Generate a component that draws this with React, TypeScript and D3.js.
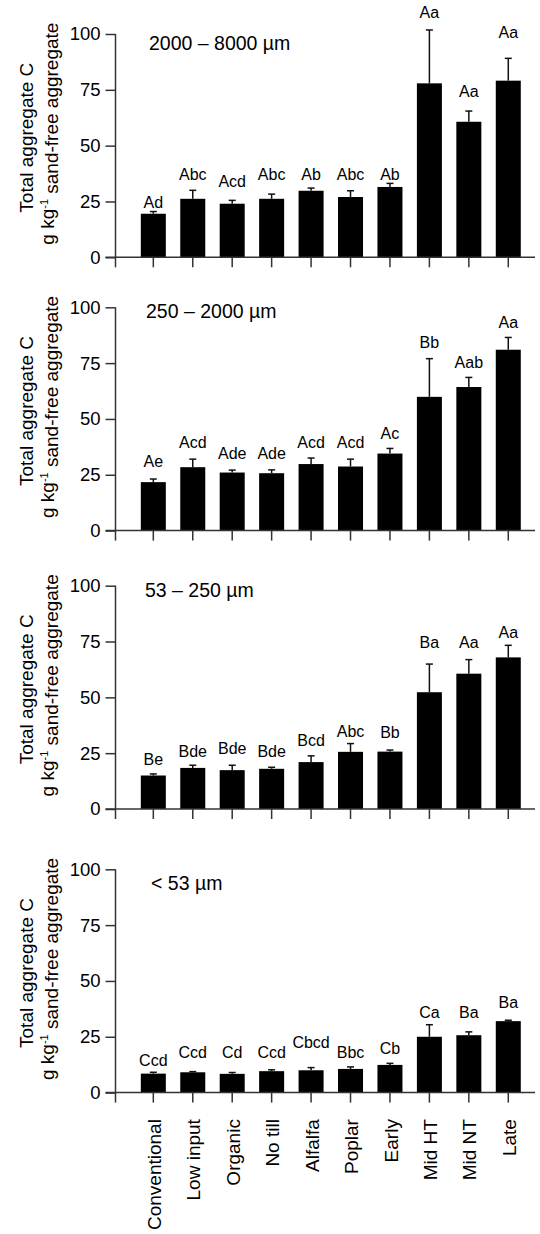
import React, { useEffect, useRef } from "react";
import * as d3 from "d3";

// treatments along the x axis
const categories = [
  "Conventional",
  "Low input",
  "Organic",
  "No till",
  "Alfalfa",
  "Poplar",
  "Early",
  "Mid HT",
  "Mid NT",
  "Late",
];

const panelTitles = ["2000 – 8000 µm", "250 – 2000 µm", "53 – 250 µm", "< 53 µm"];
const yTicks = [0, 25, 50, 75, 100];

// 2000 - 8000 µm
const mean2000 = [19.5, 26.2, 24.0, 26.2, 29.8, 27.0, 31.5, 77.9, 60.7, 79.1];
const se2000 = [1.0, 3.8, 1.5, 2.1, 1.2, 2.8, 1.6, 23.9, 4.8, 10.0];
const letters2000 = ["Ad", "Abc", "Acd", "Abc", "Ab", "Abc", "Ab", "Aa", "Aa", "Aa"];
const letterAt2000 = [22.3, 34.6, 31.6, 34.6, 34.6, 34.6, 34.6, 107, 71.9, 98.1];

// 250 - 2000 µm
const mean250 = [21.7, 28.4, 26.0, 25.7, 29.8, 28.7, 34.5, 59.9, 64.3, 81.0];
const se250 = [1.4, 3.6, 1.1, 1.5, 2.7, 3.3, 2.3, 17.1, 4.3, 5.5];
const letters250 = ["Ae", "Acd", "Ade", "Ade", "Acd", "Acd", "Ac", "Bb", "Aab", "Aa"];
const letterAt250 = [28.4, 37.0, 32.2, 32.2, 37.0, 37.0, 41.2, 81.7, 72.8, 90.6];

// 53 - 250 µm
const mean53 = [15.0, 18.4, 17.4, 18.0, 21.0, 25.6, 25.7, 52.3, 60.6, 67.9];
const se53 = [0.7, 1.2, 2.2, 0.7, 2.8, 3.7, 0.7, 12.6, 6.3, 5.4];
const letters53 = ["Be", "Bde", "Bde", "Bde", "Bcd", "Abc", "Bb", "Ba", "Aa", "Aa"];
const letterAt53 = [19.8, 23.5, 24.6, 23.5, 28.0, 32.2, 31.9, 72.1, 72.1, 76.5];

// < 53 µm
const meanSilt = [8.5, 9.1, 8.4, 9.6, 10.0, 10.6, 12.4, 25.0, 25.7, 32.0];
const seSilt = [0.6, 0.3, 0.6, 0.6, 1.2, 0.9, 0.7, 5.4, 1.5, 0.4];
const lettersSilt = ["Ccd", "Ccd", "Cd", "Ccd", "Cbcd", "Bbc", "Cb", "Ca", "Ba", "Ba"];
const letterAtSilt = [11.8, 15.6, 15.6, 15.6, 20.1, 15.6, 17.1, 33.5, 33.5, 37.9];

const panelMeans = [mean2000, mean250, mean53, meanSilt];
const panelSe = [se2000, se250, se53, seSilt];
const panelLetters = [letters2000, letters250, letters53, lettersSilt];
const panelLetterAt = [letterAt2000, letterAt250, letterAt53, letterAtSilt];

// layout
const W = 540;
const H = 1234;
const panelTop = [34, 307.3, 585.7, 869.3];
const plotH = 223.3;
const titleX = [149, 146, 145, 151];
const titleDy = [16, 11, 11.6, 20.7];
const axisX = 115.5;
const font = "'Liberation Sans', Arial, sans-serif";
const axisColor = "#333";

export default function App() {
  const svgRef = useRef<SVGSVGElement>(null);

  useEffect(() => {
    const svg = d3.select(svgRef.current);
    svg.selectAll("*").remove();

    const x = d3
      .scaleBand()
      .domain(categories)
      .range([133.6, 528])
      .paddingInner(0.366)
      .paddingOuter(0.183);

    panelTop.forEach((top, p) => {
      const y = d3.scaleLinear().domain([0, 100]).range([top + plotH, top]);
      const y0 = y(0);
      const g = svg.append("g").attr("font-family", font);

      // bars
      g.selectAll(".bar")
        .data(panelMeans[p])
        .enter()
        .append("rect")
        .attr("x", (d, i) => x(categories[i]))
        .attr("y", (d) => y(d))
        .attr("width", x.bandwidth())
        .attr("height", (d) => y0 - y(d))
        .attr("fill", "#000");

      // upper error bars
      const err = g
        .selectAll(".err")
        .data(panelMeans[p])
        .enter()
        .append("g")
        .attr("stroke", "#111")
        .attr("stroke-width", 1.5);
      err
        .append("line")
        .attr("x1", (d, i) => x(categories[i]) + x.bandwidth() / 2)
        .attr("x2", (d, i) => x(categories[i]) + x.bandwidth() / 2)
        .attr("y1", (d) => y(d))
        .attr("y2", (d, i) => y(d + panelSe[p][i]));
      err
        .append("line")
        .attr("x1", (d, i) => x(categories[i]) + x.bandwidth() / 2 - 3.5)
        .attr("x2", (d, i) => x(categories[i]) + x.bandwidth() / 2 + 3.5)
        .attr("y1", (d, i) => y(d + panelSe[p][i]))
        .attr("y2", (d, i) => y(d + panelSe[p][i]));

      // significance letters
      g.selectAll(".letter")
        .data(panelLetters[p])
        .enter()
        .append("text")
        .attr("x", (d, i) => x(categories[i]) + x.bandwidth() / 2)
        .attr("y", (d, i) => y(panelLetterAt[p][i]))
        .attr("text-anchor", "middle")
        .style("font-size", "16px")
        .text((d) => d);

      // y axis
      const yAxis = g
        .append("g")
        .attr("transform", `translate(${axisX},0)`)
        .call(
          d3
            .axisLeft(y)
            .tickValues(yTicks)
            .tickSize(10)
            .tickSizeOuter(0)
            .tickPadding(5)
        );
      yAxis.select(".domain").remove();
      yAxis.selectAll(".tick line").attr("stroke", axisColor).attr("stroke-width", 1.5);
      yAxis
        .selectAll(".tick text")
        .attr("fill", "#000")
        .style("font-size", "18.5px")
        .style("font-family", font);
      g.append("line")
        .attr("x1", axisX)
        .attr("x2", axisX)
        .attr("y1", y(100))
        .attr("y2", y0 + 10)
        .attr("stroke", axisColor)
        .attr("stroke-width", 1.5);

      // x axis
      const xAxis = g
        .append("g")
        .attr("transform", `translate(0,${y0})`)
        .call(d3.axisBottom(x).tickSize(10).tickSizeOuter(0).tickFormat(() => ""));
      xAxis.select(".domain").remove();
      xAxis.selectAll(".tick line").attr("stroke", axisColor).attr("stroke-width", 1.5);
      g.append("line")
        .attr("x1", axisX - 10)
        .attr("x2", 535)
        .attr("y1", y0)
        .attr("y2", y0)
        .attr("stroke", axisColor)
        .attr("stroke-width", 1.5);

      // panel title
      g.append("text")
        .attr("x", titleX[p])
        .attr("y", top + titleDy[p])
        .style("font-size", "19.5px")
        .text(panelTitles[p]);

      // y axis title
      const cy = top + plotH / 2 - 8;
      g.append("text")
        .attr("transform", `translate(33,${cy}) rotate(-90)`)
        .attr("text-anchor", "middle")
        .style("font-size", "19px")
        .text("Total aggregate C");
      const t2 = g
        .append("text")
        .attr("transform", `translate(54,${cy - 4}) rotate(-90)`)
        .attr("text-anchor", "middle")
        .style("font-size", "19px");
      t2.append("tspan").text("g kg");
      t2.append("tspan").attr("dy", "-0.55em").style("font-size", "11px").text("-1");
      t2.append("tspan").attr("dy", "0.55em").text(" sand-free aggregate");

      // category labels under the last panel
      if (p === panelTop.length - 1) {
        g.selectAll(".cat")
          .data(categories)
          .enter()
          .append("text")
          .attr(
            "transform",
            (d) => `translate(${x(d) + x.bandwidth() / 2 + 1},${y0 + 26.5}) rotate(-90)`
          )
          .attr("text-anchor", "end")
          .attr("dy", "0.35em")
          .style("font-size", "19px")
          .text((d) => d);
      }
    });
  }, []);

  return (
    <svg
      ref={svgRef}
      width={W}
      height={H}
      style={{ position: "absolute", left: 0, top: 0, background: "#fff" }}
    />
  );
}
